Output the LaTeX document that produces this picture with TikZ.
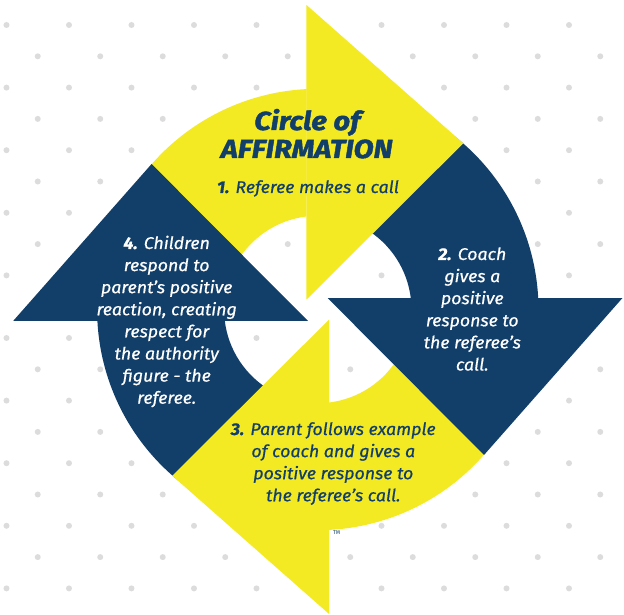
\documentclass[tikz,border=0pt]{standalone}
\usepackage{fontspec}
\setmainfont{Fira Sans}
\newfontfamily\bodyfont{Fira Sans}[FakeBold=0.6, FakeStretch=1.045]
\newfontfamily\titlefont{Fira Sans}[FakeBold=1.8, FakeStretch=1.12]
\definecolor{ayellow}{HTML}{F4EA24}
\definecolor{anavy}{HTML}{123F6A}
\definecolor{dotgray}{HTML}{DCDCDC}
\newcommand\txtblock[1]{\begin{tabular}[t]{@{}c@{}}#1\end{tabular}}
\begin{document}
\begin{tikzpicture}[x=1pt,y=1pt,
  steptext/.style={inner sep=0pt, anchor=base, font=\bodyfont\itshape\fontsize{17}{22.1}\selectfont},
  titletext/.style={inner sep=0pt, anchor=base, text=anavy, font=\titlefont\bfseries\itshape\fontsize{26}{28}\selectfont},
  bgdot/.style={fill=dotgray}]
\useasboundingbox (-317.8,-305.5) rectangle (306.2,309.5);
\fill[white] (-317.8,-305.5) rectangle (306.2,309.5);
% dot grid
\foreach \k in {0,...,18}{
  \foreach \m in {0,...,9}{
    \fill[bgdot] ({6.5 + 31.25*mod(\k,2) + 62.5*\m - 317.8}, {309.5 - 25 - 31.3*\k}) circle[radius=3pt];
  }
}
% arrow bodies
\foreach \rot/\col in {0/ayellow,-90/anavy,-180/ayellow,-270/anavy}{
  \begin{scope}[rotate=\rot]
    \fill[\col] (92.93:220.7pt) arc[start angle=92.93, end angle=150, radius=220.7pt]
      -- (150:93.7pt) arc[start angle=150, end angle=96.93, radius=93.7pt] -- cycle;
  \end{scope}
}
% arrow heads
\foreach \rot/\col in {0/ayellow,-90/anavy,-180/ayellow,-270/anavy}{
  \begin{scope}[rotate=\rot]
    \fill[\col] (-11.3,10) -- (-11.3,304.5) -- (145.5,166.2) -- cycle;
  \end{scope}
}
% texts
\node[titletext] (title1) at (-10.5,179.5) {Circle of};
\node[titletext] (title2) at (-11.1,151.5) {AFFIRMATION};
\node[steptext, text=anavy] (step1) at (-9.8,116.5) {\textbf{1.} Referee makes a call};
\node[steptext, text=white] (step2) at (154.5,49.5) {\txtblock{\textbf{2.} Coach\\gives a\\positive\\response to\\the referee’s\\call.}};
\node[steptext, text=anavy] (step3) at (15.5,-125.5) {\txtblock{\textbf{3.} Parent follows example\\of coach and gives a\\positive response to\\the referee’s call.}};
\node[steptext, text=white] (step4) at (-151.1,60.5) {\txtblock{\textbf{4.} Children\\respond to\\parent’s positive\\reaction, creating\\respect for\\the authority\\figure - the\\referee.}};
\node[inner sep=0pt, anchor=base, text=anavy, font=\fontsize{5.5}{6}\selectfont] (tm) at (18.9,-225.5) {TM};
\end{tikzpicture}
\end{document}
